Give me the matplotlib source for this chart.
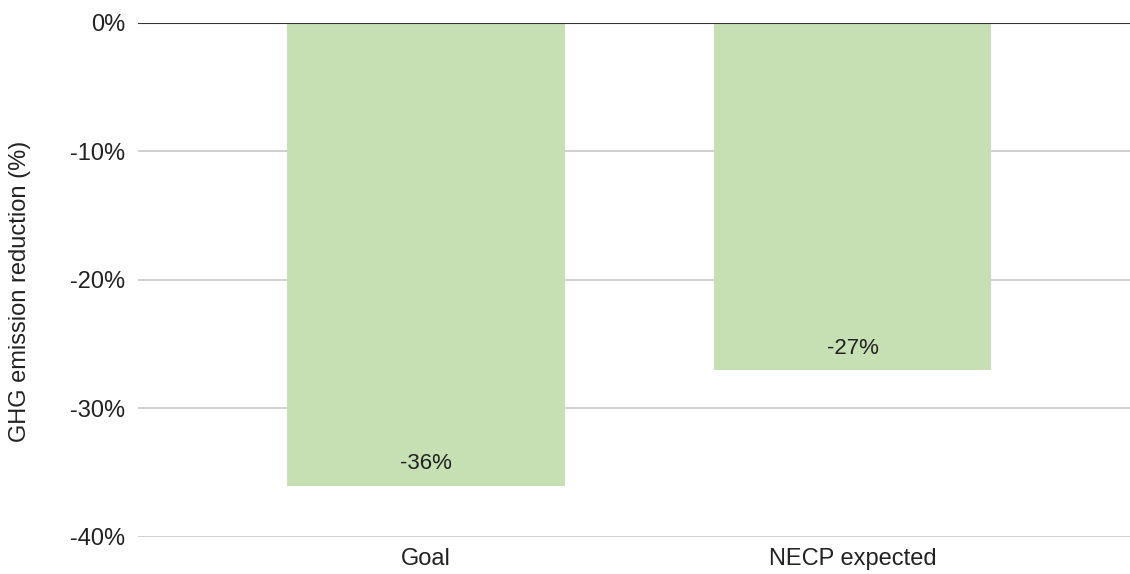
from matplotlib import pyplot as plt
from matplotlib.ticker import FuncFormatter

categories = ["Goal", "NECP expected"]
reduction = [-36, -27]
yticks = [0, -10, -20, -30, -40]

plt.rcParams['font.family'] = ['Liberation Sans', 'DejaVu Sans']

fig = plt.figure(figsize=(11.3, 5.74), dpi=100)
ax = fig.add_axes([0.1221, 0.0645, 0.8779, 0.8955])

x = list(range(len(categories)))
ax.bar(x, reduction, width=0.65, color='#c6e0b4', zorder=2)

for xi, v in zip(x, reduction):
    ax.text(xi, v + 1.7, f"{v}%", ha='center', va='center', fontsize=16, color='#222222', zorder=3)

ax.set_xlim(-0.675, 1.65)
ax.set_ylim(-40, 0)
ax.set_yticks(yticks)
ax.yaxis.set_major_formatter(FuncFormatter(lambda v, p: f"{v:.0f}%"))
ax.set_xticks(x)
ax.set_xticklabels(categories)

ax.grid(axis='y', color='#cccccc', linewidth=1.3, zorder=0)
ax.axhline(0, color='#333333', linewidth=1.5, zorder=3)
ax.set_axisbelow(True)
for s in ax.spines.values():
    s.set_visible(False)
ax.tick_params(axis='both', length=0, labelsize=17, colors='#222222')
ax.tick_params(axis='y', pad=9)
ax.tick_params(axis='x', pad=8)

fig.text(20 / 1130, 0.493, "GHG emission reduction (%)", rotation=90,
         ha='center', va='center', fontsize=17, color='#222222')

fig.savefig("out.png", dpi=100)
